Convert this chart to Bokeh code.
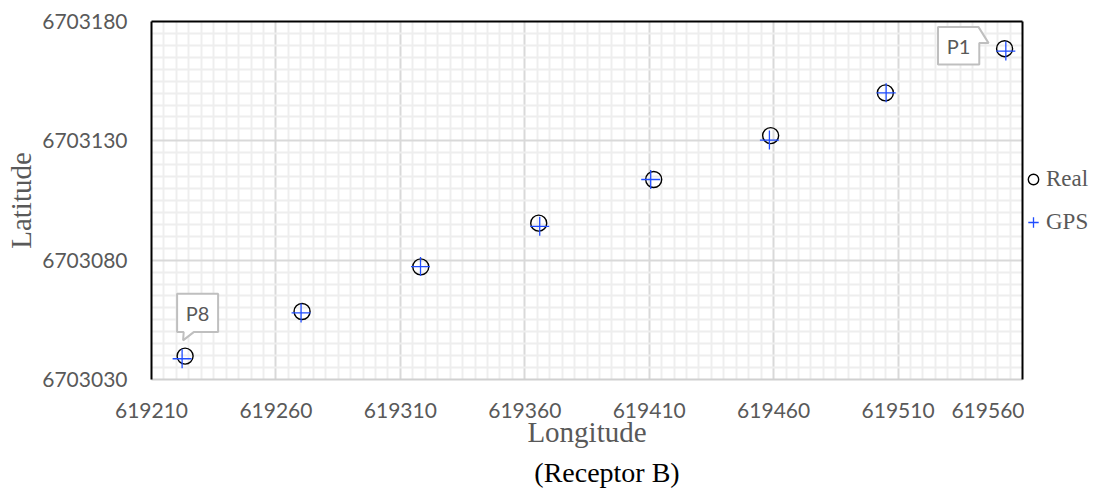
from bokeh.plotting import figure
from bokeh.layouts import column, row
from bokeh.models import (FixedTicker, BasicTickFormatter, LinearAxis, Legend,
                          LegendItem, Range1d)
from bokeh.core.properties import value
from bokeh.embed import file_html
from bokeh.resources import INLINE

# ---------------- data ----------------
point_names = ["P1", "P2", "P3", "P4", "P5", "P6", "P7", "P8"]
real_lon = [619552.8, 619504.9, 619458.8, 619411.8, 619365.6, 619318.2, 619270.5, 619223.5]
real_lat = [6703168.6, 6703150.1, 6703132.2, 6703113.8, 6703095.5, 6703077.2, 6703058.5, 6703039.8]
gps_lon = [619553.3, 619505.2, 619458.3, 619410.6, 619366.0, 619318.1, 619270.1, 619222.3]
gps_lat = [6703167.6, 6703150.1, 6703130.3, 6703113.8, 6703094.2, 6703077.3, 6703057.9, 6703038.7]
x_ticks = [619210, 619260, 619310, 619360, 619410, 619460, 619510, 619560]
y_ticks = [6703030, 6703080, 6703130, 6703180]
minor_step = 5
callout_names = ["P1", "P8"]
series_names = ["Real", "GPS"]
caption = "(Receptor B)"

# ---------------- layout constants ----------------
TOTAL_W, TOTAL_H = 1094, 488
X0, X1 = x_ticks[0], x_ticks[-1]
Y0, Y1 = y_ticks[0], y_ticks[-1]
FW, FH = 871, 358
L, R, T, B = 151, 2, 21, 74
PW = L + FW + R
PH = T + FH + B
LW = TOTAL_W - PW
CH = TOTAL_H - PH

tick_font = "Lato"
tick_color = "#595959"
title_font = "Liberation Serif"
real_color = "black"
gps_color = "#1f4cff"

p = figure(frame_width=FW, frame_height=FH, output_backend="svg", toolbar_location=None,
           x_range=Range1d(X0, X1), y_range=Range1d(Y0, Y1),
           min_border_left=L, min_border_right=R, min_border_top=T, min_border_bottom=B,
           background_fill_color="white", border_fill_color="white")
p.outline_line_color = None

x_minor = [v for v in range(X0, X1 + 1, minor_step) if v not in x_ticks]
y_minor = [v for v in range(Y0, Y1 + 1, minor_step) if v not in y_ticks]
xt = FixedTicker(ticks=x_ticks, minor_ticks=x_minor)
yt = FixedTicker(ticks=y_ticks, minor_ticks=y_minor)

xa = p.xaxis[0]
xa.ticker = xt
xa.formatter = BasicTickFormatter(use_scientific=False)
xa.major_label_text_font = tick_font
xa.major_label_text_font_size = "21px"
xa.major_label_text_color = tick_color
xa.major_tick_out = 0
xa.major_tick_in = 0
xa.minor_tick_out = 0
xa.minor_tick_in = 0
xa.major_label_standoff = 23
xa.axis_line_color = "#d0d0d0"
xa.axis_line_width = 2
xa.axis_label = "Longitude"
xa.axis_label_text_font = title_font
xa.axis_label_text_font_size = "29px"
xa.axis_label_text_font_style = "normal"
xa.axis_label_text_color = tick_color
xa.axis_label_standoff = -5

ya = p.yaxis[0]
ya.ticker = yt
ya.formatter = BasicTickFormatter(use_scientific=False)
ya.major_label_text_font = tick_font
ya.major_label_text_font_size = "21px"
ya.major_label_text_color = tick_color
ya.major_tick_out = 0
ya.major_tick_in = 0
ya.minor_tick_out = 0
ya.minor_tick_in = 0
ya.major_label_standoff = 24
ya.axis_line_color = "black"
ya.axis_line_width = 2
ya.axis_label = "Latitude"
ya.axis_label_text_font = title_font
ya.axis_label_text_font_size = "29px"
ya.axis_label_text_font_style = "normal"
ya.axis_label_text_color = tick_color
ya.axis_label_standoff = 2

p.xgrid.ticker = xt
p.ygrid.ticker = yt
for g in (p.xgrid, p.ygrid):
    g.grid_line_color = "#d9d9d9"
    g.grid_line_width = 2
    g.minor_grid_line_color = "#eeeeee"
    g.minor_grid_line_width = 2

# frame border on top and right
for side in ("right", "above"):
    ax = LinearAxis(ticker=FixedTicker(ticks=[]), axis_line_color="black", axis_line_width=2,
                    major_tick_out=0, major_tick_in=0, minor_tick_out=0, minor_tick_in=0,
                    major_label_standoff=0, major_label_text_font_size="0px")
    p.add_layout(ax, side)

# ---------------- callouts ----------------
sx = FW / (X1 - X0)
sy = FH / (Y1 - Y0)

def off(lon, lat, dx, dy):
    return lon + dx / sx, lat - dy / sy

shapes = {
    "P1": [(-66.6, -21.6), (-26, -21.6), (-16, -5.6), (-25.3, -5.6), (-25.3, 15.7), (-66.6, 15.7)],
    "P8": [(-8, -62.4), (33, -62.4), (33, -24), (8.6, -24), (-2, -15.7), (-1.4, -24), (-8, -24)],
}
text_off = {"P1": (-46, -3), "P8": (12.5, -43.2)}
tx, ty = [], []
for name in callout_names:
    i = point_names.index(name)
    pts = [off(real_lon[i], real_lat[i], dx, dy) for dx, dy in shapes[name]]
    p.patch([q[0] for q in pts], [q[1] for q in pts], fill_color="white",
            line_color="#bfbfbf", line_width=2)
    cx, cy = off(real_lon[i], real_lat[i], *text_off[name])
    tx.append(cx)
    ty.append(cy)
p.text(tx, ty, text=callout_names, text_font=value(tick_font), text_font_size="20px",
       text_color=tick_color, text_align="center", text_baseline="middle")

# ---------------- points ----------------
p.scatter(real_lon, real_lat, marker="circle", size=16, fill_color=None,
          line_color=real_color, line_width=1.4)
p.scatter(gps_lon, gps_lat, marker="cross", size=19, line_color=gps_color, line_width=1.3)

# ---------------- legend panel ----------------
pl = figure(width=LW, height=PH, output_backend="svg", toolbar_location=None,
            x_range=Range1d(0, 1), y_range=Range1d(0, 1), x_axis_type=None, y_axis_type=None,
            min_border=0, background_fill_color="white", border_fill_color="white")
pl.outline_line_color = None
pl.xgrid.visible = False
pl.ygrid.visible = False
nan = float("nan")
lr_real = pl.scatter([nan], [nan], marker="circle", size=16, fill_color=None,
                     line_color=real_color, line_width=1.4)
lr_gps = pl.scatter([nan], [nan], marker="cross", size=19, line_color=gps_color, line_width=1.3)
GW, GH, SP = 26, 28, 15
leg_h = 2 * GH + SP
legend = Legend(items=[LegendItem(label=series_names[0], renderers=[lr_real]),
                       LegendItem(label=series_names[1], renderers=[lr_gps])],
                location=(-4, FH / 2 - leg_h / 2), orientation="vertical",
                margin=0, padding=0, spacing=SP, glyph_width=GW, glyph_height=GH,
                label_height=GH, label_standoff=0, label_text_font=title_font,
                label_text_font_size="23px", label_text_color=tick_color,
                background_fill_alpha=0, border_line_alpha=0)
pl.add_layout(legend)

# ---------------- caption panel ----------------
pc = figure(width=TOTAL_W, height=CH, output_backend="svg", toolbar_location=None,
            x_range=Range1d(0, TOTAL_W), y_range=Range1d(0, CH), x_axis_type=None,
            y_axis_type=None, min_border=0, background_fill_color="white",
            border_fill_color="white")
pc.outline_line_color = None
pc.xgrid.visible = False
pc.ygrid.visible = False
pc.text([L + FW / 2 + 20], [CH - 3], text=[caption], text_font=value(title_font),
        text_font_size="28px", text_color="black", text_align="center",
        text_baseline="top")

layout = column(row(p, pl, spacing=0), pc, spacing=0)
open("out.html", "w").write(file_html(layout, INLINE))
